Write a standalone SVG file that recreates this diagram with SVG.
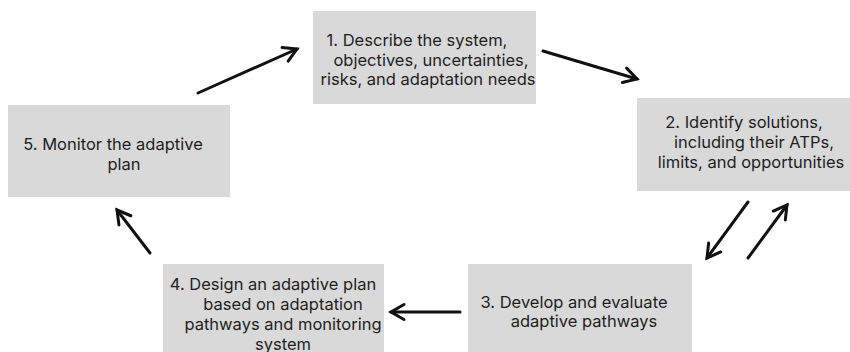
<svg xmlns="http://www.w3.org/2000/svg" width="850" height="352" viewBox="0 0 850 352">
  <style>
    .box { fill: #d9d9d9; }
    .lbl { font-family: Inter, "Noto Sans", "Liberation Sans", sans-serif; font-size: 16.5px; fill: #1e1e1e; text-anchor: middle; }
    .conn { stroke: #111; stroke-width: 3; fill: none; stroke-linecap: round; marker-end: url(#chevron); }
  </style>
  <defs>
    <marker id="chevron" markerUnits="userSpaceOnUse" viewBox="-16 -10 20 20" refX="0" refY="0" markerWidth="20" markerHeight="20" orient="auto">
      <path d="M -13 -7.5 L 0 0 L -13 7.5" fill="none" stroke="#111" stroke-width="3" stroke-linecap="round" stroke-linejoin="miter"/>
    </marker>
  </defs>
  <rect width="850" height="352" fill="#fff"/>

  <g id="step1">
    <rect class="box" x="313" y="11" width="223" height="93"/>
    <text class="lbl"><tspan x="417" y="46">1. Describe the system,</tspan><tspan x="431" y="65.5">objectives, uncertainties,</tspan><tspan x="428" y="85">risks, and adaptation needs</tspan></text>
  </g>

  <g id="step2">
    <rect class="box" x="637" y="98" width="223" height="93"/>
    <text class="lbl"><tspan x="744" y="128">2. Identify solutions,</tspan><tspan x="754" y="148">including their ATPs,</tspan><tspan x="751" y="168">limits, and opportunities</tspan></text>
  </g>

  <g id="step3">
    <rect class="box" x="468" y="264" width="224" height="100"/>
    <text class="lbl"><tspan x="574" y="308">3. Develop and evaluate</tspan><tspan x="584" y="327">adaptive pathways</tspan></text>
  </g>

  <g id="step4">
    <rect class="box" x="163" y="264" width="221" height="100"/>
    <text class="lbl"><tspan x="273" y="290">4. Design an adaptive plan</tspan><tspan x="283" y="310">based on adaptation</tspan><tspan x="283" y="330">pathways and monitoring</tspan><tspan x="283" y="350">system</tspan></text>
  </g>

  <g id="step5">
    <rect class="box" x="8" y="105" width="222" height="92"/>
    <text class="lbl"><tspan x="113" y="150">5. Monitor the adaptive</tspan><tspan x="124" y="170">plan</tspan></text>
  </g>

  <g id="connectors">
    <line class="conn" x1="198" y1="93" x2="297" y2="49"/>
    <line class="conn" x1="543" y1="51" x2="637" y2="79"/>
    <line class="conn" x1="748" y1="202" x2="707" y2="258"/>
    <line class="conn" x1="748" y1="258" x2="787" y2="205"/>
    <line class="conn" x1="460" y1="312" x2="391" y2="312"/>
    <line class="conn" x1="150" y1="253" x2="117" y2="210"/>
  </g>
</svg>
